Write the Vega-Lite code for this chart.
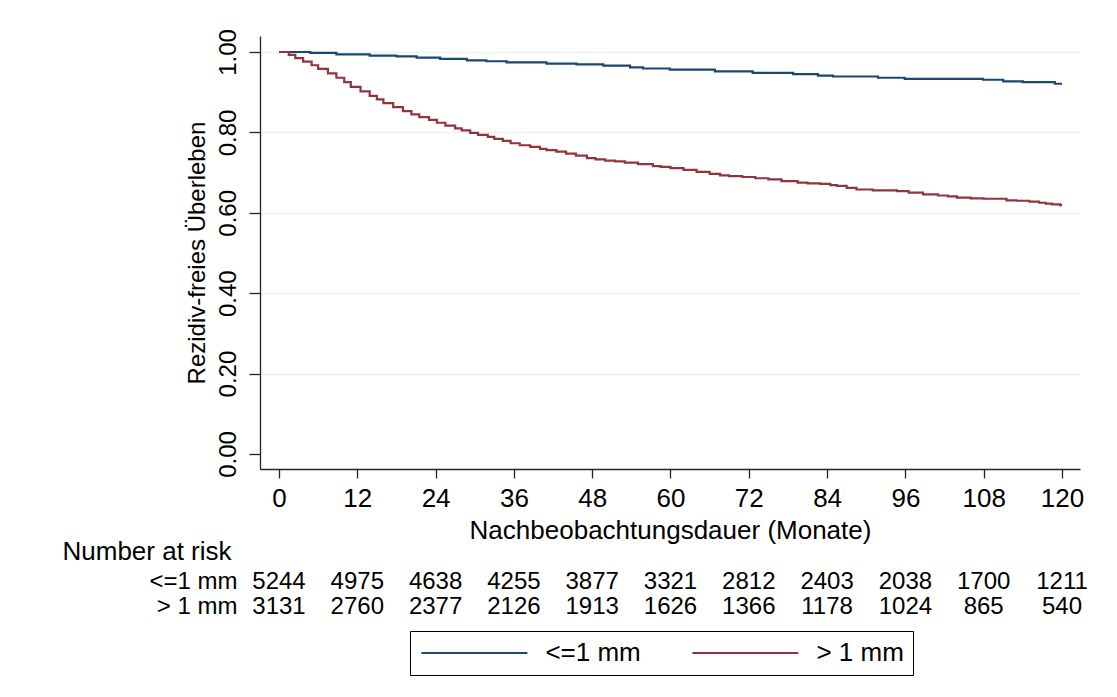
{
  "$schema": "https://vega.github.io/schema/vega-lite/v6.json",
  "background": "white",
  "padding": {"left": 62, "top": 28, "right": 20, "bottom": 10},
  "bounds": "flush",
  "spacing": 100,
  "resolve": {"scale": {"x": "independent", "y": "independent"}},
  "config": {
    "font": "Liberation Sans",
    "view": {"stroke": null},
    "axis": {"labelColor": "#000", "titleColor": "#000", "domainColor": "#222", "tickColor": "#222", "labelFont": "Liberation Sans", "titleFont": "Liberation Sans", "titleFontWeight": "normal"},
    "text": {"font": "Liberation Sans"},
    "legend": {"labelFont": "Liberation Sans"}
  },
  "datasets": {
    "km": [
      {"group": "<=1 mm", "month": 0, "surv": 1.0},
      {"group": "<=1 mm", "month": 4.8, "surv": 0.998},
      {"group": "<=1 mm", "month": 8.8, "surv": 0.994},
      {"group": "<=1 mm", "month": 13.9, "surv": 0.991},
      {"group": "<=1 mm", "month": 18, "surv": 0.989},
      {"group": "<=1 mm", "month": 21.1, "surv": 0.986},
      {"group": "<=1 mm", "month": 24.7, "surv": 0.983},
      {"group": "<=1 mm", "month": 28.8, "surv": 0.979},
      {"group": "<=1 mm", "month": 31.8, "surv": 0.977},
      {"group": "<=1 mm", "month": 34.9, "surv": 0.974},
      {"group": "<=1 mm", "month": 41, "surv": 0.971},
      {"group": "<=1 mm", "month": 45.6, "surv": 0.969},
      {"group": "<=1 mm", "month": 49.7, "surv": 0.966},
      {"group": "<=1 mm", "month": 53.8, "surv": 0.962},
      {"group": "<=1 mm", "month": 55.8, "surv": 0.959},
      {"group": "<=1 mm", "month": 59.9, "surv": 0.956},
      {"group": "<=1 mm", "month": 66.8, "surv": 0.952},
      {"group": "<=1 mm", "month": 72.6, "surv": 0.948},
      {"group": "<=1 mm", "month": 78.8, "surv": 0.945},
      {"group": "<=1 mm", "month": 82.6, "surv": 0.941},
      {"group": "<=1 mm", "month": 84.9, "surv": 0.939},
      {"group": "<=1 mm", "month": 91.8, "surv": 0.936},
      {"group": "<=1 mm", "month": 95.9, "surv": 0.933},
      {"group": "<=1 mm", "month": 107.9, "surv": 0.931},
      {"group": "<=1 mm", "month": 111, "surv": 0.927},
      {"group": "<=1 mm", "month": 114, "surv": 0.925},
      {"group": "<=1 mm", "month": 118.9, "surv": 0.921},
      {"group": "<=1 mm", "month": 120, "surv": 0.921},
      {"group": "> 1 mm", "month": 0, "surv": 1.0},
      {"group": "> 1 mm", "month": 1.5, "surv": 0.993},
      {"group": "> 1 mm", "month": 2.5, "surv": 0.985},
      {"group": "> 1 mm", "month": 3.7, "surv": 0.976},
      {"group": "> 1 mm", "month": 5, "surv": 0.967},
      {"group": "> 1 mm", "month": 6, "surv": 0.958},
      {"group": "> 1 mm", "month": 7.5, "surv": 0.947},
      {"group": "> 1 mm", "month": 8.8, "surv": 0.936},
      {"group": "> 1 mm", "month": 10, "surv": 0.925},
      {"group": "> 1 mm", "month": 11, "surv": 0.913},
      {"group": "> 1 mm", "month": 12.5, "surv": 0.902},
      {"group": "> 1 mm", "month": 13.9, "surv": 0.891},
      {"group": "> 1 mm", "month": 15, "surv": 0.882},
      {"group": "> 1 mm", "month": 16, "surv": 0.873},
      {"group": "> 1 mm", "month": 17.5, "surv": 0.863},
      {"group": "> 1 mm", "month": 19, "surv": 0.853},
      {"group": "> 1 mm", "month": 20.3, "surv": 0.845},
      {"group": "> 1 mm", "month": 21.5, "surv": 0.838},
      {"group": "> 1 mm", "month": 23, "surv": 0.831},
      {"group": "> 1 mm", "month": 24.2, "surv": 0.824},
      {"group": "> 1 mm", "month": 25.5, "surv": 0.817},
      {"group": "> 1 mm", "month": 27, "surv": 0.81},
      {"group": "> 1 mm", "month": 28, "surv": 0.805},
      {"group": "> 1 mm", "month": 29.3, "surv": 0.799},
      {"group": "> 1 mm", "month": 30.5, "surv": 0.794},
      {"group": "> 1 mm", "month": 32, "surv": 0.789},
      {"group": "> 1 mm", "month": 33, "surv": 0.784},
      {"group": "> 1 mm", "month": 34.3, "surv": 0.779},
      {"group": "> 1 mm", "month": 35.5, "surv": 0.773},
      {"group": "> 1 mm", "month": 36.9, "surv": 0.768},
      {"group": "> 1 mm", "month": 38.5, "surv": 0.764},
      {"group": "> 1 mm", "month": 40, "surv": 0.759},
      {"group": "> 1 mm", "month": 41, "surv": 0.756},
      {"group": "> 1 mm", "month": 42.5, "surv": 0.752},
      {"group": "> 1 mm", "month": 44, "surv": 0.747},
      {"group": "> 1 mm", "month": 45.5, "surv": 0.742},
      {"group": "> 1 mm", "month": 47.2, "surv": 0.736},
      {"group": "> 1 mm", "month": 48.5, "surv": 0.733},
      {"group": "> 1 mm", "month": 50, "surv": 0.73},
      {"group": "> 1 mm", "month": 51.5, "surv": 0.728},
      {"group": "> 1 mm", "month": 53, "surv": 0.725},
      {"group": "> 1 mm", "month": 55, "surv": 0.721},
      {"group": "> 1 mm", "month": 57.3, "surv": 0.716},
      {"group": "> 1 mm", "month": 58.5, "surv": 0.714},
      {"group": "> 1 mm", "month": 60, "surv": 0.711},
      {"group": "> 1 mm", "month": 62, "surv": 0.707},
      {"group": "> 1 mm", "month": 64, "surv": 0.702},
      {"group": "> 1 mm", "month": 66, "surv": 0.697},
      {"group": "> 1 mm", "month": 67.6, "surv": 0.693},
      {"group": "> 1 mm", "month": 69, "surv": 0.691},
      {"group": "> 1 mm", "month": 71, "surv": 0.689},
      {"group": "> 1 mm", "month": 73, "surv": 0.686},
      {"group": "> 1 mm", "month": 75, "surv": 0.683},
      {"group": "> 1 mm", "month": 77, "surv": 0.679},
      {"group": "> 1 mm", "month": 79.5, "surv": 0.675},
      {"group": "> 1 mm", "month": 81, "surv": 0.673},
      {"group": "> 1 mm", "month": 83, "surv": 0.672},
      {"group": "> 1 mm", "month": 84.5, "surv": 0.669},
      {"group": "> 1 mm", "month": 85.5, "surv": 0.667},
      {"group": "> 1 mm", "month": 87, "surv": 0.662},
      {"group": "> 1 mm", "month": 88.5, "surv": 0.658},
      {"group": "> 1 mm", "month": 91, "surv": 0.656},
      {"group": "> 1 mm", "month": 94.7, "surv": 0.654},
      {"group": "> 1 mm", "month": 96.5, "surv": 0.65},
      {"group": "> 1 mm", "month": 98.7, "surv": 0.646},
      {"group": "> 1 mm", "month": 101, "surv": 0.643},
      {"group": "> 1 mm", "month": 102.5, "surv": 0.641},
      {"group": "> 1 mm", "month": 103.9, "surv": 0.638},
      {"group": "> 1 mm", "month": 106, "surv": 0.636},
      {"group": "> 1 mm", "month": 108, "surv": 0.635},
      {"group": "> 1 mm", "month": 111.5, "surv": 0.631},
      {"group": "> 1 mm", "month": 113, "surv": 0.63},
      {"group": "> 1 mm", "month": 115, "surv": 0.628},
      {"group": "> 1 mm", "month": 116.5, "surv": 0.625},
      {"group": "> 1 mm", "month": 117.5, "surv": 0.623},
      {"group": "> 1 mm", "month": 118.5, "surv": 0.621},
      {"group": "> 1 mm", "month": 119.7, "surv": 0.619},
      {"group": "> 1 mm", "month": 120, "surv": 0.619}
    ],
    "risk": [
      {"group": "<=1 mm", "month": 0, "n": 5244},
      {"group": "<=1 mm", "month": 12, "n": 4975},
      {"group": "<=1 mm", "month": 24, "n": 4638},
      {"group": "<=1 mm", "month": 36, "n": 4255},
      {"group": "<=1 mm", "month": 48, "n": 3877},
      {"group": "<=1 mm", "month": 60, "n": 3321},
      {"group": "<=1 mm", "month": 72, "n": 2812},
      {"group": "<=1 mm", "month": 84, "n": 2403},
      {"group": "<=1 mm", "month": 96, "n": 2038},
      {"group": "<=1 mm", "month": 108, "n": 1700},
      {"group": "<=1 mm", "month": 120, "n": 1211},
      {"group": "> 1 mm", "month": 0, "n": 3131},
      {"group": "> 1 mm", "month": 12, "n": 2760},
      {"group": "> 1 mm", "month": 24, "n": 2377},
      {"group": "> 1 mm", "month": 36, "n": 2126},
      {"group": "> 1 mm", "month": 48, "n": 1913},
      {"group": "> 1 mm", "month": 60, "n": 1626},
      {"group": "> 1 mm", "month": 72, "n": 1366},
      {"group": "> 1 mm", "month": 84, "n": 1178},
      {"group": "> 1 mm", "month": 96, "n": 1024},
      {"group": "> 1 mm", "month": 108, "n": 865},
      {"group": "> 1 mm", "month": 120, "n": 540}
    ]
  },
  "vconcat": [
    {
      "width": 820,
      "height": 433,
      "data": {"name": "km"},
      "mark": {"type": "line", "interpolate": "step-after", "strokeWidth": 2.2},
      "encoding": {
        "x": {
          "field": "month", "type": "quantitative",
          "scale": {"domain": [-2.91, 122.76], "nice": false, "zero": false},
          "axis": {"values": [0, 12, 24, 36, 48, 60, 72, 84, 96, 108, 120], "title": "Nachbeobachtungsdauer (Monate)", "grid": false, "tickSize": 9, "labelFontSize": 26, "labelPadding": 7, "titleFontSize": 26, "titlePadding": 6, "domainWidth": 1.3, "tickWidth": 1.3, "labelFlush": false, "labelOverlap": false}
        },
        "y": {
          "field": "surv", "type": "quantitative",
          "scale": {"domain": [-0.0373, 1.0398], "nice": false, "zero": false},
          "axis": {"values": [0, 0.2, 0.4, 0.6, 0.8, 1], "format": ".2f", "title": "Rezidiv-freies Überleben", "tickSize": 11, "labelAngle": 270, "labelAlign": "center", "labelBaseline": "alphabetic", "labelPadding": 14, "labelFontSize": 24, "titleFontSize": 24, "titlePadding": 7, "grid": true, "gridColor": {"condition": {"test": "datum.value === 0", "value": "transparent"}, "value": "#eaf2f3"}, "gridWidth": 1.5, "domainWidth": 1.3, "tickWidth": 1.3, "labelFlush": false, "labelOverlap": false}
        },
        "color": {
          "field": "group", "type": "nominal",
          "scale": {"domain": ["<=1 mm", "> 1 mm"], "range": ["#1a476f", "#90353b"]},
          "legend": {"title": null, "orient": "none", "legendX": 150, "legendY": 595, "direction": "horizontal", "columns": 2, "strokeColor": "#000", "fillColor": "white", "padding": 9, "symbolType": "M-5,0H5", "symbolSize": 449, "symbolOffset": 42.4, "symbolStrokeWidth": 2, "labelFontSize": 26, "labelOffset": 58, "columnPadding": 47, "labelColor": "#000", "labelBaseline": "middle"}
        }
      }
    },
    {
      "width": 820,
      "height": 50,
      "data": {"name": "risk"},
      "mark": {"type": "text", "fontSize": 24, "baseline": "middle", "align": "center", "color": "#000"},
      "encoding": {
        "x": {"field": "month", "type": "quantitative", "scale": {"domain": [-2.91, 122.76], "nice": false, "zero": false}, "axis": null},
        "y": {
          "field": "group", "type": "nominal",
          "scale": {"type": "point", "domain": ["<=1 mm", "> 1 mm"], "padding": 0.5},
          "axis": {"title": "Number at risk", "titleAngle": 0, "titleAlign": "left", "titleBaseline": "alphabetic", "titleX": -198, "titleY": -10, "titleFontSize": 26, "domain": false, "ticks": false, "labelPadding": 23, "labelFontSize": 24, "grid": false}
        },
        "text": {"field": "n", "type": "quantitative", "format": "d"}
      }
    }
  ]
}
